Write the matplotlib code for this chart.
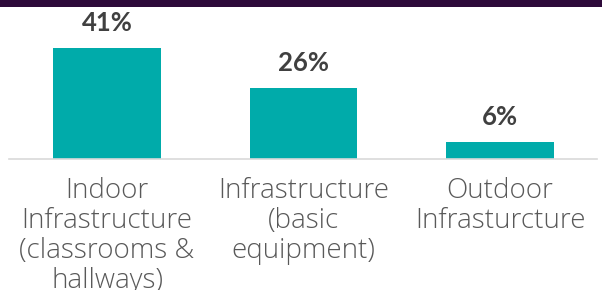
import matplotlib
matplotlib.use("Agg")
import matplotlib.pyplot as plt
from matplotlib.patches import Rectangle

categories = ["Indoor\nInfrastructure\n(classrooms &\nhallways)",
              "Infrastructure\n(basic\nequipment)",
              "Outdoor\nInfrasturcture"]
values = [41, 26, 6]
value_labels = ["41%", "26%", "6%"]

TEAL = "#00ABAA"
PURPLE = "#2E0A3A"

W, H = 602, 290
fig = plt.figure(figsize=(W / 100, H / 100), dpi=100)

# axes in pixel terms: x 9..597, baseline at y=158.5 from top, 2.7 px per %
left, right = 9, 597
base, top = 158.5, 8
ax = fig.add_axes([left / W, (H - base) / H, (right - left) / W, (base - top) / H])
ax.set_ylim(0, (base - top) / 2.7)
ax.set_xlim(-0.499, 2.493)

x = range(len(values))
ax.bar(x, values, width=0.547, color=TEAL)

for xi, v, lab in zip(x, values, value_labels):
    ax.annotate(lab, (xi, v), xytext=(0, 12.3), textcoords="offset points",
                ha="center", va="baseline", fontsize=18.5, fontweight="bold",
                color="#404040", family=["Lato", "DejaVu Sans"])

ax.set_xticks(list(x))
ax.set_xticklabels(categories, fontsize=20, color="#595959",
                   family=["Open Sans", "DejaVu Sans"], fontweight="light",
                   linespacing=1.1)
ax.tick_params(axis="x", length=0, pad=13)
ax.set_yticks([])
for s in ("top", "right", "left"):
    ax.spines[s].set_visible(False)
ax.spines["bottom"].set_color("#D9D9D9")
ax.spines["bottom"].set_linewidth(1.2)

# dark strip along the top edge
fig.add_artist(Rectangle((0, 1 - 7 / H), 1, 7 / H, transform=fig.transFigure,
                         color=PURPLE, lw=0))

fig.savefig("out.png", dpi=100)
